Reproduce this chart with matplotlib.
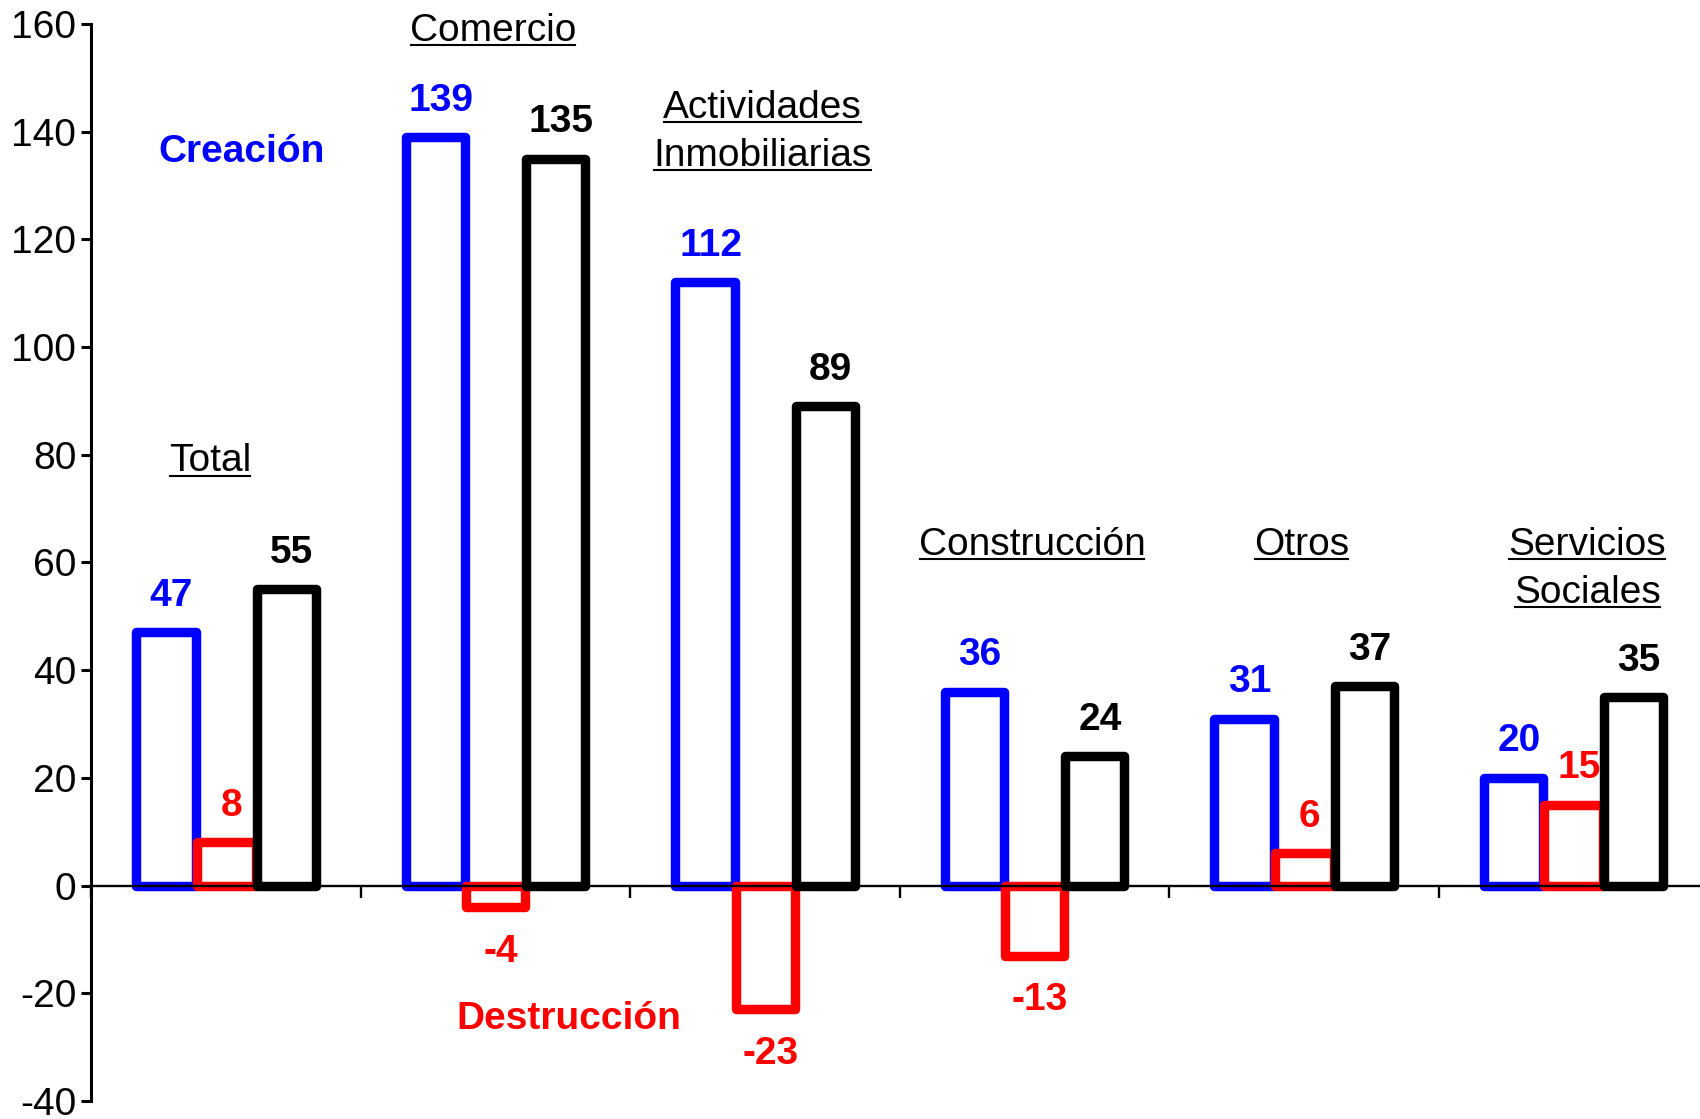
import numpy as np
import matplotlib
matplotlib.use("Agg")
import matplotlib.pyplot as plt
from matplotlib.lines import Line2D

plt.rcParams["font.family"] = ["Liberation Sans", "DejaVu Sans"]
plt.rcParams["axes.unicode_minus"] = False

# --- datos ---
sectores = ["Total", "Comercio", "Actividades\nInmobiliarias", "Construcción", "Otros", "Servicios\nSociales"]
creacion = [47, 139, 112, 36, 31, 20]
destruccion = [8, -4, -23, -13, 6, 15]
neto = [55, 135, 89, 24, 37, 35]

# posición (x, línea base y) de cada rótulo de sector
rotulo_pos = [(-0.06, 76.9), (0.99, 156.9), (1.99, 142.6), (2.99, 61.4), (3.99, 61.4), (5.05, 61.4)]

AZUL = "#0000FF"
ROJO = "#FF0000"
NEGRO = "#000000"

fig = plt.figure(figsize=(17, 11.19), dpi=100)
ax = fig.add_axes([0.0538, 0.0161, 0.9512, 0.9625])

x = np.arange(len(sectores))
paso = 0.223
ancho = 0.22
lw = 6.8

series = [(creacion, AZUL, -paso), (destruccion, ROJO, 0.0), (neto, NEGRO, paso)]
for i, (vals, color, dx) in enumerate(series):
    ax.bar(x + dx, vals, ancho, facecolor="white", edgecolor=color,
           linewidth=lw, joinstyle="round", zorder=1 + 0.1 * i)
    for xi, v in zip(x + dx, vals):
        yb = v + 4.9 if v >= 0 else v - 10.1
        ax.text(xi + 0.02, yb, f"{v}", color=color, fontsize=28, fontweight="bold",
                ha="center", va="baseline", zorder=5)

ax.set_xlim(-0.5, 5.5)
ax.set_ylim(-40, 160)
ax.set_yticks(np.arange(-40, 161, 20))
ax.set_xticks(np.arange(-0.5, 5.6, 1.0))
ax.set_xticklabels([])

for s in ["top", "right"]:
    ax.spines[s].set_visible(False)
ax.spines["bottom"].set_position(("data", 0))
ax.spines["bottom"].set_linewidth(1.7)
ax.spines["left"].set_linewidth(2.2)
ax.tick_params(axis="y", direction="out", length=7, width=2.2, labelsize=28, pad=4)
ax.tick_params(axis="x", direction="out", length=8.4, width=1.7)

# leyendas en el propio gráfico
ax.text(0.058, 136.3, "Creación", color=AZUL, fontsize=28, fontweight="bold",
        ha="center", va="center")
ax.text(1.272, -24.8, "Destrucción", color=ROJO, fontsize=28, fontweight="bold",
        ha="center", va="center")

# rótulos de sector subrayados, una línea por objeto de texto
interlinea = 8.9
rotulos = []
for nombre, (px, py) in zip(sectores, rotulo_pos):
    for k, linea in enumerate(nombre.split("\n")):
        t = ax.text(px, py - k * interlinea, linea, fontsize=28, ha="center",
                    va="baseline", color=NEGRO)
        rotulos.append(t)

fig.canvas.draw()
r = fig.canvas.get_renderer()
inv = fig.transFigure.inverted()
for t in rotulos:
    bb = t.get_window_extent(r)
    _, yb = ax.transData.transform(t.get_position())
    (x0, y0), (x1, _) = inv.transform([(bb.x0 + 1, yb - 4.5), (bb.x1 - 1, yb - 4.5)])
    fig.add_artist(Line2D([x0, x1], [y0, y0], color=NEGRO, linewidth=1.5))

fig.savefig("out.png", dpi=100, facecolor="white")
